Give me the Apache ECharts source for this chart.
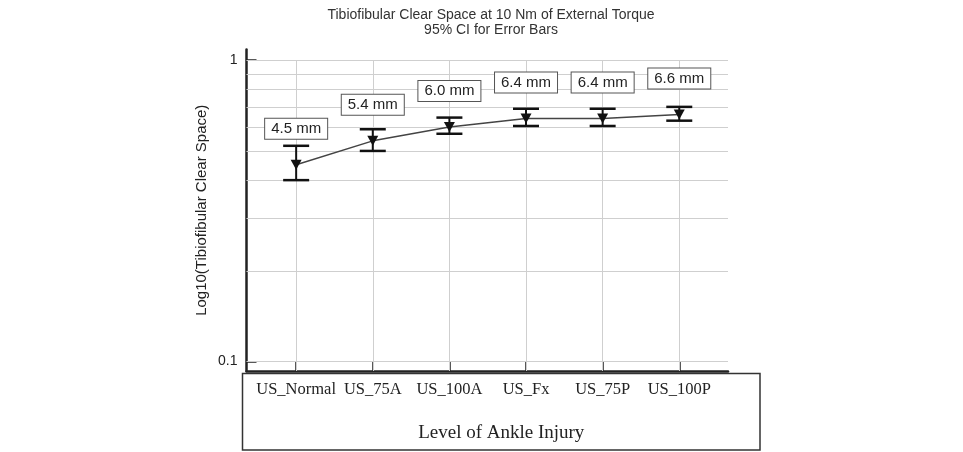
<!DOCTYPE html>
<html>
<head>
<meta charset="utf-8">
<script src="https://cdn.jsdelivr.net/npm/echarts@6/dist/echarts.min.js"></script>
<style>
  html,body{margin:0;padding:0;background:#fff;}
  #main{width:963px;height:452px;}
</style>
</head>
<body>
<div id="main"></div>
<script>
// data
var categories = ['US_Normal', 'US_75A', 'US_100A', 'US_Fx', 'US_75P', 'US_100P'];
var meanValues = [0.45, 0.54, 0.60, 0.64, 0.64, 0.66];
var ciUpper = [0.52, 0.59, 0.645, 0.69, 0.69, 0.70];
var ciLower = [0.40, 0.50, 0.57, 0.605, 0.605, 0.63];
var meanLabels = ['4.5 mm', '5.4 mm', '6.0 mm', '6.4 mm', '6.4 mm', '6.6 mm'];
var yMajorTicks = [0.1, 1];
var yMinorTicks = [0.2, 0.3, 0.4, 0.5, 0.6, 0.7, 0.8, 0.9];

var dom = document.getElementById('main');
var myChart = echarts.init(dom);

var catIndex = categories.map(function(c, i){ return i; });
var yMin = 0.0931, yMax = 1.085;

// grid lines (drawn as markLines so the minor log lines sit at 0.2..0.9)
var gridLines = [];
yMajorTicks.concat(yMinorTicks).forEach(function(v){
	gridLines.push({yAxis: v});
});
catIndex.forEach(function(i){
	gridLines.push([{coord: [i, 1]}, {coord: [i, yMin]}]);
});

var errorData = catIndex.map(function(i){
	return [i, ciUpper[i], ciLower[i]];
});

//误差线
var renderError = function(params, api){
	var x = api.value(0);
	var hi = api.coord([x, api.value(1)]);
	var lo = api.coord([x, api.value(2)]);
	var half = 13;
	var st = {stroke: '#111', lineWidth: 2.5};
	return {
		type: 'group',
		children: [
			{type: 'line', shape: {x1: hi[0], y1: hi[1], x2: lo[0], y2: lo[1]}, style: {stroke: '#111', lineWidth: 2}},
			{type: 'line', shape: {x1: hi[0] - half, y1: hi[1], x2: hi[0] + half, y2: hi[1]}, style: st},
			{type: 'line', shape: {x1: lo[0] - half, y1: lo[1], x2: lo[0] + half, y2: lo[1]}, style: st}
		]
	};
};

var option = {
	animation: false,
	backgroundColor: '#fff',
	title: {
		text: 'Tibiofibular Clear Space at 10 Nm of External Torque\n95% CI for Error Bars',
		left: 486,
		top: 3,
		textAlign: 'center',
		textStyle: {
			fontFamily: 'Liberation Sans',
			fontSize: 14,
			fontWeight: 'normal',
			color: '#333',
			lineHeight: 15
		}
	},
	grid: {left: 246.5, right: 235, top: 49.5, bottom: 81},
	xAxis: {
		type: 'value',
		min: -0.648,
		max: 5.636,
		name: 'Level of Ankle Injury',
		nameLocation: 'middle',
		nameGap: 53,
		nameTextStyle: {
			fontFamily: 'Liberation Serif',
			fontSize: 19,
			color: '#222',
			padding: [0, 0, 0, 28]
		},
		axisLine: {onZero: false, lineStyle: {color: '#222', width: 2.5}},
		axisTick: {
			customValues: catIndex,
			inside: true,
			length: 10,
			lineStyle: {color: '#222', width: 1.5}
		},
		axisLabel: {
			customValues: catIndex,
			margin: 10,
			fontFamily: 'Liberation Serif',
			fontSize: 16.5,
			color: '#222',
			formatter: function(v){ return categories[Math.round(v)]; }
		},
		splitLine: {show: false}
	},
	yAxis: [
		{
			type: 'log',
			logBase: 10,
			min: yMin,
			max: yMax,
			name: 'Log10(Tibiofibular Clear Space)',
			nameLocation: 'middle',
			nameGap: 37,
			nameTextStyle: {fontFamily: 'Liberation Sans', fontSize: 15, color: '#222'},
			axisLine: {onZero: false, lineStyle: {color: '#222', width: 2.5}},
			axisTick: {
				customValues: yMajorTicks,
				inside: true,
				length: 10,
				lineStyle: {color: '#222', width: 1.5}
			},
			axisLabel: {
				customValues: yMajorTicks,
				margin: 9,
				fontFamily: 'Liberation Sans',
				fontSize: 14,
				color: '#222',
				formatter: function(v){ return v >= 0.99 ? '1' : '0.1'; }
			},
			splitLine: {show: false}
		},
		{
			// minor ticks only
			type: 'log',
			logBase: 10,
			min: yMin,
			max: yMax,
			position: 'left',
			axisLine: {show: false, onZero: false},
			axisTick: {
				customValues: yMinorTicks,
				inside: true,
				length: 5,
				lineStyle: {color: '#222', width: 1}
			},
			axisLabel: {show: false},
			splitLine: {show: false}
		}
	],
	graphic: [
		{
			type: 'rect',
			shape: {x: 242.5, y: 373.5, width: 517.5, height: 76.5},
			style: {fill: 'none', stroke: '#333', lineWidth: 1.5},
			z: 1
		}
	],
	series: [
		{
			name: 'grid',
			type: 'line',
			data: [],
			z: 1,
			markLine: {
				silent: true,
				z: 1,
				symbol: 'none',
				label: {show: false},
				lineStyle: {color: '#cfcfcf', width: 1, type: 'solid'},
				data: gridLines
			}
		},
		{
			name: 'ci',
			type: 'custom',
			renderItem: renderError,
			encode: {x: 0, y: [1, 2]},
			data: errorData,
			z: 3
		},
		{
			name: 'mean',
			type: 'line',
			data: catIndex.map(function(i){ return [i, meanValues[i]]; }),
			symbol: 'triangle',
			symbolRotate: 180,
			symbolSize: [11, 10],
			itemStyle: {color: '#111'},
			lineStyle: {color: '#444', width: 1.5},
			z: 4,
			label: {
				show: true,
				position: 'inside',
				offset: [0, -36],
				formatter: function(p){ return meanLabels[p.dataIndex]; },
				fontFamily: 'Liberation Sans',
				fontSize: 15,
				color: '#222',
				backgroundColor: '#fff',
				borderColor: '#555',
				borderWidth: 1,
				padding: [3, 6, 2, 6]
			}
		}
	]
};
if(option && typeof option === "object") {
	myChart.setOption(option, true);
}
</script>
</body>
</html>
